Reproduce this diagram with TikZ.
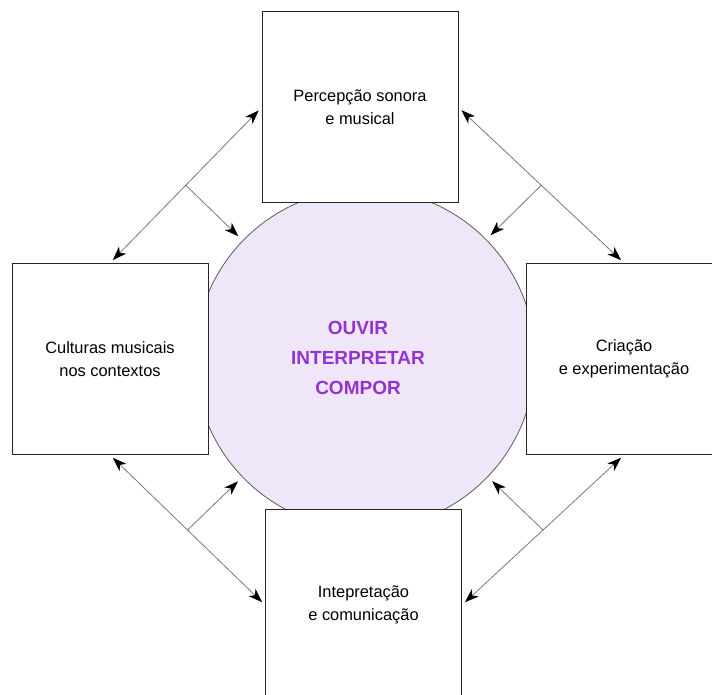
\documentclass[tikz,border=0pt]{standalone}
\usepackage{fontspec}
\setmainfont{Liberation Sans}
\usetikzlibrary{arrows.meta}

\definecolor{lilac}{RGB}{240,230,250}
\definecolor{txtpurple}{RGB}{148,52,206}
\definecolor{linkgray}{RGB}{120,120,120}

\begin{document}
\begin{tikzpicture}
	[x = 1pt, y = -1pt,
	box/.style={draw=black!85, line width=1pt, fill=white, minimum width=196pt, minimum height=191pt,
		inner sep=0pt, align=center, font=\fontsize{16.4}{23}\selectfont},
	link/.style={{Stealth[black, length=14pt, width=10pt, inset=4pt]}-{Stealth[black, length=14pt, width=10pt, inset=4pt]},
		linkgray, line width=0.8pt, shorten <=4pt, shorten >=4pt},
	push/.style={-{Stealth[black, length=14pt, width=10pt, inset=4pt]}, linkgray, line width=0.8pt, shorten >=6pt}]
	
	\useasboundingbox (0, 0) rectangle (712, 695);
	
	% Draw central circle
	\node[circle, draw=black!65, line width=0.8pt, fill=lilac, minimum size=340pt, inner sep=0pt] (core) at (365, 359) {};
	\node[font=\fontsize{19}{30}\selectfont\bfseries, text=txtpurple, align=center] (aims) at (358, 358)
		{OUVIR\\INTERPRETAR\\COMPOR};
	
	% Draw the four boxes
	\node[box] (top) at (360, 107.5) {Percepção sonora\\e musical};
	\node[box] (left) at (110, 359) {Culturas musicais\\nos contextos};
	\node[box] (right) at (624, 359) {Criação\\e experimentação};
	\node[box] (bottom) at (363.5, 605) {Intepretação\\e comunicação};
	
	% Draw links between boxes
	\draw[link] (top.west) -- (left.north) coordinate[pos=0.5] (m1);
	\draw[link] (top.east) -- (right.north) coordinate[pos=0.5] (m2);
	\draw[link] (left.south) -- (bottom.west) coordinate[pos=0.5] (m3);
	\draw[link] (right.south) -- (bottom.east) coordinate[pos=0.5] (m4);
	
	% Draw links to the circle
	\draw[push] (m1) -- (core);
	\draw[push] (m2) -- (core);
	\draw[push] (m3) -- (core);
	\draw[push] (m4) -- (core);
	
\end{tikzpicture}
\end{document}
